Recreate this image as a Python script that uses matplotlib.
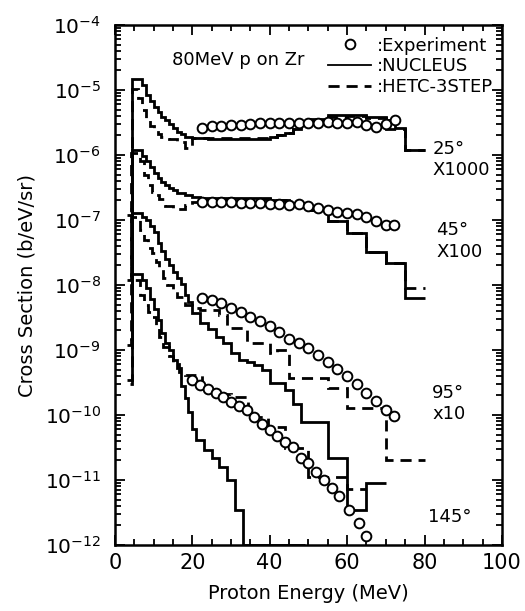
import matplotlib
matplotlib.use('Agg')
import matplotlib.pyplot as plt
from matplotlib.lines import Line2D
from matplotlib.ticker import LogLocator, MultipleLocator, NullFormatter

# ---- 25 deg (x1000) ----
e25_nuc = [4.0, 4.5, 7, 8, 9, 10, 11, 12, 13, 14, 15, 16, 17, 18, 20, 22, 24, 30, 40, 42, 44, 46, 48, 50, 55, 60, 65, 70, 72.5, 75, 80]
y25_nuc = [1.5e-7, 1.5e-5, 1.2e-5, 8.5e-6, 6.8e-6, 5.5e-6, 4.6e-6, 3.9e-6, 3.4e-6, 3.0e-6, 2.6e-6, 2.3e-6, 2.1e-6, 1.9e-6, 1.8e-6,
           1.8e-6, 1.75e-6, 1.75e-6, 1.9e-6, 2.0e-6, 2.2e-6, 2.5e-6, 2.9e-6, 3.6e-6, 4.1e-6, 4.1e-6, 3.8e-6, 3.4e-6, 2.6e-6, 1.2e-6]
e25_hetc = [3.0, 4.3, 6, 7, 8, 9, 10, 11, 12, 14, 16, 18, 20, 24, 30, 40, 42, 44, 46, 48, 50, 55, 60, 65, 70, 75, 80]
y25_hetc = [1.2e-7, 1.05e-5, 7.5e-6, 5.0e-6, 3.5e-6, 2.8e-6, 2.4e-6, 2.1e-6, 1.9e-6, 1.75e-6, 1.6e-6, 1.3e-6, 1.85e-6, 1.85e-6,
            1.8e-6, 1.9e-6, 2.0e-6, 2.2e-6, 2.5e-6, 2.9e-6, 3.4e-6, 3.9e-6, 4.0e-6, 3.7e-6, 2.5e-6, 1.2e-6]
e25_exp = [22.5, 25, 27.5, 30, 32.5, 35, 37.5, 40, 42.5, 45, 47.5, 50, 52.5, 55, 57.5, 60, 62.5, 65, 67.5, 70, 72.5]
y25_exp = [2.6e-6, 2.75e-6, 2.8e-6, 2.9e-6, 2.95e-6, 3.0e-6, 3.1e-6, 3.1e-6, 3.1e-6, 3.1e-6, 3.15e-6, 3.1e-6, 3.15e-6,
           3.2e-6, 3.1e-6, 3.1e-6, 3.2e-6, 2.95e-6, 2.7e-6, 3.0e-6, 3.4e-6]

# ---- 45 deg (x100) ----
e45_nuc = [4.0, 4.5, 7, 8, 9, 10, 11, 12, 13, 14, 15, 16, 18, 20, 22, 40, 45, 50, 55, 60, 65, 70, 75, 80]
y45_nuc = [1.5e-8, 1.2e-6, 9.5e-7, 8.0e-7, 6.5e-7, 5.2e-7, 4.4e-7, 3.8e-7, 3.4e-7, 3.1e-7, 2.9e-7, 2.6e-7, 2.4e-7, 2.25e-7,
           2.2e-7, 2.05e-7, 1.85e-7, 1.45e-7, 9.5e-8, 6.3e-8, 3.2e-8, 2.2e-8, 6.3e-9]
e45_hetc = [3.0, 4.2, 6.5, 7.5, 8.5, 9.5, 10.5, 11.5, 13, 15, 18, 20, 22, 40, 45, 50, 55, 60, 65, 70, 75, 80]
y45_hetc = [1.2e-8, 1.07e-6, 8.0e-7, 5.0e-7, 3.5e-7, 2.7e-7, 2.4e-7, 2.1e-7, 1.65e-7, 1.5e-7, 1.7e-7, 1.9e-7, 2.1e-7,
            2.0e-7, 1.8e-7, 1.45e-7, 9.5e-8, 6.3e-8, 3.2e-8, 2.2e-8, 8.9e-9]
e45_exp = [22.5, 25, 27.5, 30, 32.5, 35, 37.5, 40, 42.5, 45, 47.5, 50, 52.5, 55, 57.5, 60, 62.5, 65, 67.5, 70, 72]
y45_exp = [1.9e-7, 1.9e-7, 1.9e-7, 1.9e-7, 1.86e-7, 1.86e-7, 1.82e-7, 1.78e-7, 1.74e-7, 1.7e-7, 1.74e-7, 1.62e-7, 1.55e-7,
           1.45e-7, 1.32e-7, 1.29e-7, 1.23e-7, 1.1e-7, 9.5e-8, 8.3e-8, 8.3e-8]

# ---- 95 deg (x10) ----
e95_nuc = [4.0, 4.5, 7, 8, 9, 10, 11, 12, 13, 14, 15, 16, 17, 18, 19, 20, 22, 24, 26, 28, 30, 32, 34, 36, 38, 40, 44, 46, 48,
           55, 60, 65, 70]
y95_nuc = [1.5e-9, 1.3e-7, 1.1e-7, 1.0e-7, 8.0e-8, 6.5e-8, 4.5e-8, 3.3e-8, 2.5e-8, 2.0e-8, 1.6e-8, 1.3e-8, 1.05e-8, 7.0e-9,
           5.5e-9, 3.7e-9, 2.6e-9, 2.1e-9, 1.6e-9, 1.3e-9, 9.0e-10, 7.1e-10, 6.5e-10, 5.9e-10, 4.9e-10, 3.1e-10, 2.4e-10,
           1.5e-10, 7.8e-11, 2.2e-11, 3.5e-12, 9.0e-12]
e95_hetc = [3.0, 4.2, 6.5, 7.5, 8.5, 9.5, 10.5, 11.5, 12.5, 13.5, 15, 16, 18, 20, 22, 27, 29, 34, 40, 42, 45, 55, 60, 70, 80]
y95_hetc = [1.2e-9, 1.1e-7, 7.0e-8, 5.0e-8, 3.7e-8, 3.1e-8, 2.3e-8, 1.9e-8, 1.3e-8, 1.0e-8, 8.3e-9, 6.5e-9, 5.0e-9, 4.4e-9,
            4.2e-9, 3.5e-9, 2.2e-9, 1.3e-9, 8.9e-10, 1.0e-9, 3.7e-10, 2.6e-10, 1.3e-10, 2.0e-11]
e95_exp = [22.5, 25, 27.5, 30, 32.5, 35, 37.5, 40, 42.5, 45, 47.5, 50, 52.5, 55, 57.5, 60, 62.5, 65, 67.5, 70, 72]
y95_exp = [6.3e-9, 5.9e-9, 5.2e-9, 4.5e-9, 3.8e-9, 3.2e-9, 2.75e-9, 2.35e-9, 1.9e-9, 1.5e-9, 1.3e-9, 1.07e-9, 8.5e-10,
           6.6e-10, 5.1e-10, 4.0e-10, 2.95e-10, 2.2e-10, 1.66e-10, 1.2e-10, 9.5e-11]

# ---- 145 deg (x1) ----
e145_nuc = [4.0, 4.5, 7, 8, 9, 10, 11, 12, 13, 14, 15, 16, 17, 18, 19, 20, 21, 23, 25, 27, 29, 31, 33, 49]
y145_nuc = [3.0e-10, 1.5e-8, 1.2e-8, 9.0e-9, 6.0e-9, 4.3e-9, 2.9e-9, 1.8e-9, 1.3e-9, 1.0e-9, 7.0e-10, 5.2e-10, 2.8e-10,
            1.8e-10, 1.1e-10, 6.0e-11, 4.2e-11, 2.9e-11, 2.2e-11, 1.6e-11, 1.0e-11, 3.5e-12, 1.0e-12]
e145_hetc = [3.0, 4.3, 6.5, 7.5, 8.5, 9.5, 10.5, 11.5, 12.5, 14, 15, 16.5, 18, 22.5, 27, 30, 34.5, 39.5, 44, 50, 60, 65]
y145_hetc = [3.5e-10, 1.2e-8, 7.0e-9, 5.0e-9, 3.8e-9, 3.2e-9, 2.2e-9, 1.6e-9, 1.1e-9, 8.0e-10, 6.0e-10, 4.6e-10, 4.2e-10,
             2.4e-10, 2.1e-10, 1.9e-10, 9.3e-11, 6.6e-11, 3.1e-11, 1.1e-11, 7.2e-12]
e145_exp = [20, 22, 24, 26, 28, 30, 32, 34, 36, 38, 40, 42, 44, 46, 48, 50, 52, 54, 56, 58, 60.5, 63, 65]
y145_exp = [3.5e-10, 2.9e-10, 2.5e-10, 2.2e-10, 1.9e-10, 1.6e-10, 1.4e-10, 1.2e-10, 9.3e-11, 7.4e-11, 5.8e-11, 4.7e-11,
            3.8e-11, 3.2e-11, 2.2e-11, 1.8e-11, 1.35e-11, 1.0e-11, 7.6e-12, 5.6e-12, 3.4e-12, 2.2e-12, 1.4e-12]

angle_labels = ["25°\nX1000", "45°\nX100", "95°\nx10", "145°"]
label_pos = [(82, 8.5e-7), (83, 4.8e-8), (82, 1.5e-10), (81, 2.7e-12)]

plt.rcParams['font.family'] = 'DejaVu Sans'
fig = plt.figure(figsize=(5.25, 6.11), dpi=100)
ax = fig.add_axes([0.219, 0.108, 0.737, 0.851])

lw = 2.0
dash = (0, (4, 2.5))
curves = [(e25_nuc, y25_nuc, e25_hetc, y25_hetc, e25_exp, y25_exp),
          (e45_nuc, y45_nuc, e45_hetc, y45_hetc, e45_exp, y45_exp),
          (e95_nuc, y95_nuc, e95_hetc, y95_hetc, e95_exp, y95_exp),
          (e145_nuc, y145_nuc, e145_hetc, y145_hetc, e145_exp, y145_exp)]
for en, yn, eh, yh, ee, ye in curves:
    ax.stairs(yh, eh, color='black', lw=lw, linestyle=dash, baseline=None)
    ax.stairs(yn, en, color='black', lw=lw, baseline=None)
    ax.plot(ee, ye, 'o', ms=7, mfc='white', mec='black', mew=1.4, zorder=3)

for txt, (x, y) in zip(angle_labels, label_pos):
    ax.text(x, y, txt, fontsize=13, va='center', ha='left', linespacing=1.25)

ax.text(14.8, 2.9e-5, "80MeV p on Zr", fontsize=13, va='center')

handles = [Line2D([], [], ls='none', marker='o', ms=7, mfc='white', mec='black', mew=1.4),
           Line2D([], [], color='black', lw=1.3),
           Line2D([], [], color='black', lw=2.0, linestyle=dash)]
ax.legend(handles, [":Experiment", ":NUCLEUS", ":HETC-3STEP"], loc='upper right',
          bbox_to_anchor=(1.0, 0.995), frameon=False, fontsize=13, handlelength=2.4,
          handletextpad=0.3, labelspacing=0.15, borderaxespad=0.1)

ax.set_yscale('log')
ax.set_xlim(0, 100)
ax.set_ylim(1e-12, 1e-4)
ax.xaxis.set_major_locator(MultipleLocator(20))
ax.xaxis.set_minor_locator(MultipleLocator(5))
ax.yaxis.set_major_locator(LogLocator(base=10, numticks=20))
ax.yaxis.set_minor_locator(LogLocator(base=10, subs=[2, 3, 4, 5, 6, 7, 8, 9], numticks=20))
ax.yaxis.set_minor_formatter(NullFormatter())
ax.tick_params(which='both', direction='in', top=True, right=True, width=1.3)
ax.tick_params(which='major', length=7)
ax.tick_params(which='minor', length=4)
ax.tick_params(axis='x', labelsize=15, pad=6)
ax.tick_params(axis='y', labelsize=14.5, pad=10)
for s in ax.spines.values():
    s.set_linewidth(1.8)

ax.set_xlabel('Proton Energy (MeV)', fontsize=14, labelpad=8)
ax.set_ylabel('Cross Section (b/eV/sr)', fontsize=14, labelpad=6)

fig.savefig('out.png', dpi=100)
